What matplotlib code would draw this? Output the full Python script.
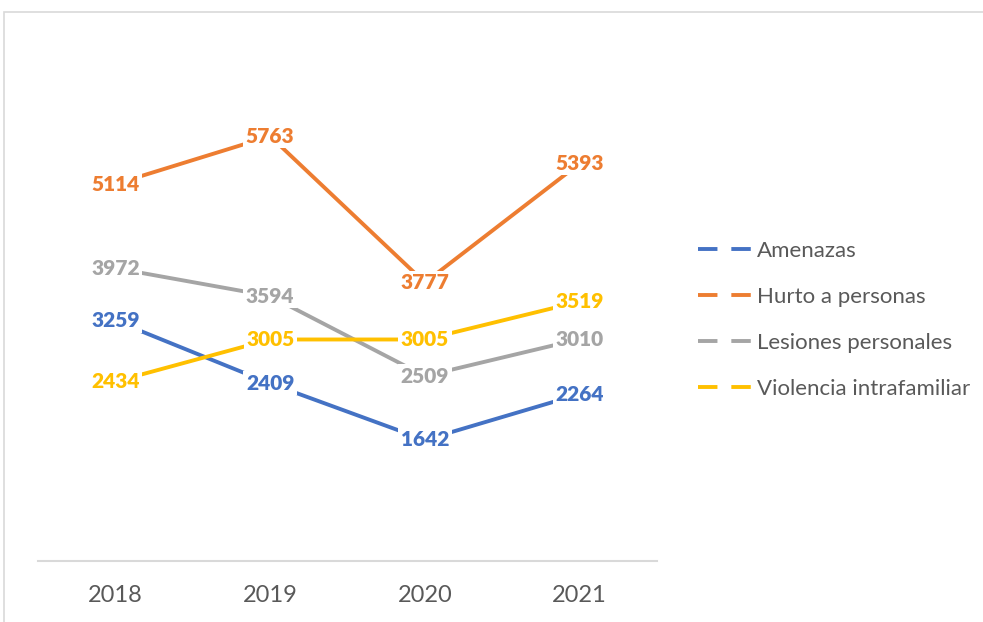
import matplotlib.pyplot as plt
from matplotlib.lines import Line2D
from matplotlib.patches import Rectangle

plt.rcParams['font.family'] = ['Lato', 'DejaVu Sans']
plt.rcParams['lines.scale_dashes'] = False

years = ['2018', '2019', '2020', '2021']
series = ['Amenazas', 'Hurto a personas', 'Lesiones personales', 'Violencia intrafamiliar']
amenazas = [3259, 2409, 1642, 2264]
hurto = [5114, 5763, 3777, 5393]
lesiones = [3972, 3594, 2509, 3010]
violencia = [2434, 3005, 3005, 3519]
colors = ['#4472C4', '#ED7D31', '#A5A5A5', '#FFC000']

fig = plt.figure(figsize=(9.83, 6.22), dpi=100)
ax = fig.add_axes([38 / 983, 1 - 561 / 622, 619 / 983, 516 / 622])

x = list(range(len(years)))
for vals, c in zip([amenazas, hurto, lesiones, violencia], colors):
    ax.plot(x, vals, color=c, lw=2.8, solid_capstyle='round', zorder=2)
    for xi, v in zip(x, vals):
        ax.text(xi, v, str(v), color=c, fontsize=15, fontweight='heavy',
                ha='center', va='center', zorder=5,
                bbox=dict(boxstyle='square,pad=0.12', fc='white', ec='none'))

ax.set_xlim(-0.5, 3.5)
ax.set_ylim(0, 7000)
ax.set_xticks(x)
ax.set_xticklabels(years, fontsize=17, color='#595959')
ax.tick_params(axis='x', length=0, pad=17)
ax.set_yticks([])
for s in ['top', 'right', 'left']:
    ax.spines[s].set_visible(False)
ax.spines['bottom'].set_color('#D9D9D9')
ax.spines['bottom'].set_linewidth(1.5)

handles = [Line2D([], [], color=c, lw=2.8, linestyle=(0, (14, 10)))
           for c in colors]
fig.legend(handles, series, loc='center left', bbox_to_anchor=(698 / 983, 1 - 320 / 622),
           frameon=False, fontsize=16, labelcolor='#595959', handlelength=2.45,
           handletextpad=0.22, labelspacing=1.17, borderpad=0, borderaxespad=0)

fig.patches.append(Rectangle((4 / 983, -0.1), 1.2, 1.1 - 12 / 622,
                             transform=fig.transFigure, fill=False,
                             ec='#D9D9D9', lw=1.2))

fig.savefig('out.png', dpi=100)
